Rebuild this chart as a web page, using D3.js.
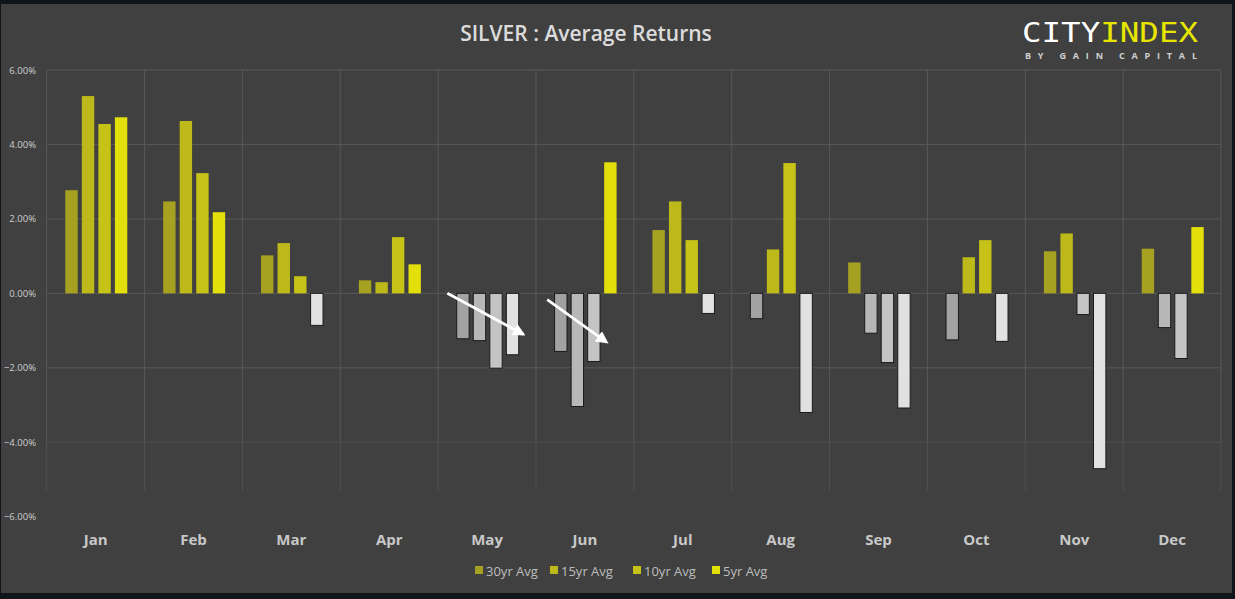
<!DOCTYPE html>
<html><head><meta charset="utf-8">
<script src="https://cdn.jsdelivr.net/npm/d3@7"></script>
<style>html,body{margin:0;padding:0;background:#10151b;overflow:hidden}</style>
</head><body>
<svg id="c" width="1235" height="599"></svg>
<script>
const months = ["Jan","Feb","Mar","Apr","May","Jun","Jul","Aug","Sep","Oct","Nov","Dec"];
const seriesNames = ["30yr Avg","15yr Avg","10yr Avg","5yr Avg"];
const avg30 = [2.77, 2.47, 1.02, 0.35, -1.22, -1.56, 1.70, -0.68, 0.83, -1.25, 1.13, 1.20];
const avg15 = [5.30, 4.63, 1.35, 0.30, -1.27, -3.04, 2.47, 1.18, -1.07, 0.97, 1.61, -0.92];
const avg10 = [4.55, 3.23, 0.46, 1.51, -2.01, -1.83, 1.43, 3.50, -1.86, 1.43, -0.57, -1.75];
const avg5  = [4.73, 2.18, -0.86, 0.78, -1.65, 3.52, -0.54, -3.20, -3.08, -1.29, -4.71, 1.78];
const yTicks = [6, 4, 2, 0, -2, -4, -6];
// annotation arrows: [monthIndex + fraction, value]
const arrows = [
  {from:[4.094, 0.0], to:[4.87, -1.10]},
  {from:[5.115, -0.17], to:[5.72, -1.31]}
];

const posColors = ["#a6a120","#bdb91b","#c6c218","#e3df0b"];
const negColors = ["#a2a2a2","#b7b7b7","#c4c4c4","#e1e1e1"];
const allSeries = [avg30, avg15, avg10, avg5];

const svg = d3.select("#c");
svg.append("rect").attr("x",1).attr("y",4).attr("width",1231).attr("height",589).attr("fill","#404040");

const x = d3.scaleBand().domain(months).range([46.7, 1221]).paddingInner(0).paddingOuter(0);
const y = d3.scaleLinear().domain([-6, 6]).range([516.7, 70]);
const x1 = d3.scaleBand().domain(d3.range(4)).range([18.6, 80.6]).paddingInner(0.25);
const xc = v => x.range()[0] + v * x.step();

// grid
const g = svg.append("g");
g.selectAll("line.h").data(yTicks.filter(t => t > -6)).join("line")
  .attr("x1", 46.7).attr("x2", 1221)
  .attr("y1", d => y(d)).attr("y2", d => y(d))
  .attr("stroke", "#585858").attr("stroke-width", 1)
  .attr("stroke-opacity", d => d < -3 ? 0.6 : 1);
g.selectAll("line.v").data(d3.range(13)).join("line")
  .attr("x1", d => xc(d)).attr("x2", d => xc(d))
  .attr("y1", y(6)).attr("y2", y(-4))
  .attr("stroke", "#585858");
g.selectAll("line.v2").data(d3.range(13)).join("line")
  .attr("x1", d => xc(d)).attr("x2", d => xc(d))
  .attr("y1", y(-4)).attr("y2", y(-5.3))
  .attr("stroke", "#505050");

// y axis labels
const yAxis = d3.axisLeft(y).tickValues(yTicks).tickSize(0).tickPadding(0)
  .tickFormat(d => d3.format(".2f")(d) + "%");
const ya = svg.append("g").attr("transform","translate(36,0)").call(yAxis);
ya.select(".domain").remove();
ya.selectAll("text").attr("fill","#cfcfcf").attr("font-family","'Open Sans', sans-serif").attr("font-size", 9.5);

// bars
const data = [];
months.forEach((m, i) => allSeries.forEach((s, j) => data.push({m, j, v: s[i]})));
svg.append("g").selectAll("rect").data(data).join("rect")
  .attr("x", d => x(d.m) + x1(d.j))
  .attr("width", x1.bandwidth())
  .attr("y", d => y(Math.max(0, d.v)))
  .attr("height", d => Math.abs(y(d.v) - y(0)))
  .attr("fill", d => d.v >= 0 ? posColors[d.j] : negColors[d.j])
  .attr("stroke", d => d.v >= 0 ? "none" : "#1a1a1a")
  .attr("stroke-width", 1);

// x labels
const xAxis = d3.axisBottom(x).tickSize(0).tickPadding(0);
const xa = svg.append("g").attr("transform", "translate(0,545)").call(xAxis);
xa.select(".domain").remove();
xa.selectAll("text").attr("fill","#c8c8c8").attr("font-family","'Open Sans', sans-serif")
  .attr("font-weight","bold").attr("font-size",15).attr("dy","0");

// arrows
const defs = svg.append("defs");
defs.append("marker").attr("id","ah").attr("viewBox","0 0 10 10").attr("refX",8).attr("refY",5)
  .attr("markerWidth",4.5).attr("markerHeight",4.5).attr("orient","auto")
  .append("path").attr("d","M0,0 L10,5 L0,10 z").attr("fill","#ffffff");
svg.append("g").selectAll("line").data(arrows).join("line")
  .attr("x1", d => xc(d.from[0])).attr("y1", d => y(d.from[1]))
  .attr("x2", d => xc(d.to[0])).attr("y2", d => y(d.to[1]))
  .attr("stroke","#ffffff").attr("stroke-width",2.8).attr("marker-end","url(#ah)");

// title
svg.append("text").attr("x",586).attr("y",41).attr("text-anchor","middle")
  .attr("fill","#dcdcdc").attr("font-family","'Open Sans', sans-serif").attr("font-weight",600)
  .attr("font-size",21).text("SILVER : Average Returns");

// logo
const logo = svg.append("text").attr("x",1022).attr("y",42)
  .attr("font-family","'DejaVu Sans Mono', monospace").attr("font-size",27).attr("textLength",176)
  .attr("lengthAdjust","spacingAndGlyphs");
logo.append("tspan").attr("fill","#ffffff").text("CITY");
logo.append("tspan").attr("fill","#e8e600").text("INDEX");
svg.append("text").attr("x",1025).attr("y",58.5).attr("fill","#d0d0d0")
  .attr("font-family","'Open Sans', sans-serif").attr("font-weight","bold").attr("font-size",9)
  .attr("textLength",172).attr("lengthAdjust","spacing").text("BY GAIN CAPITAL");

// legend
const legX = [475, 550, 633, 712];
const lg = svg.append("g").selectAll("g").data(seriesNames).join("g")
  .attr("transform", (d, i) => `translate(${legX[i]},571)`);
lg.append("rect").attr("x",0).attr("y",-5).attr("width",8).attr("height",8).attr("fill",(d,i)=>posColors[i]);
lg.append("text").attr("x",11).attr("y",4.5).attr("fill","#bdbdbd")
  .attr("font-family","'Open Sans', sans-serif").attr("font-size",13).text(d => d);
</script>
</body></html>
